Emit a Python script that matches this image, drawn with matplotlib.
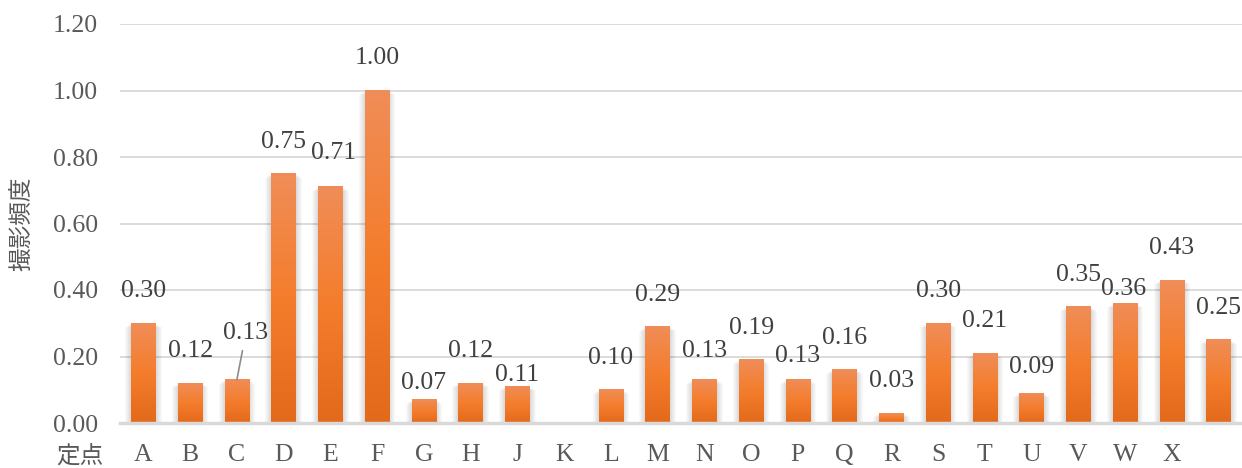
import numpy as np
import matplotlib.pyplot as plt
from matplotlib.colors import LinearSegmentedColormap
from matplotlib.patches import Rectangle

# 定点ごとの撮影頻度
points = ["A", "B", "C", "D", "E", "F", "G", "H", "J", "K", "L", "M",
          "N", "O", "P", "Q", "R", "S", "T", "U", "V", "W", "X", ""]
freq = [0.30, 0.12, 0.13, 0.75, 0.71, 1.00, 0.07, 0.12, 0.11, np.nan, 0.10, 0.29,
        0.13, 0.19, 0.13, 0.16, 0.03, 0.30, 0.21, 0.09, 0.35, 0.36, 0.43, 0.25]
yticks = [0.0, 0.2, 0.4, 0.6, 0.8, 1.0, 1.2]

# ラベル位置の手動調整 (ピクセル)
label_shift = {"C": (9, 47), "E": (3, 34), "G": (0, 17), "J": (0, 11),
               "P": (0, 24), "U": (0, 26), "W": (-2, 14), "N": (0, 29)}

grey = "#595959"
num_font = "Liberation Serif"
jp_font = ["Noto Sans CJK JP", "DejaVu Sans"]
fs = 18.5

fig = plt.figure(figsize=(12.42, 4.68), dpi=100)
ax = fig.add_axes([120 / 1242, 45 / 468, 1 - 120 / 1242, 399 / 468])

grad = LinearSegmentedColormap.from_list("bar", ["#E3691B", "#F47D2C", "#F08D58"])
g = np.linspace(0, 1, 256).reshape(-1, 1)

x = np.arange(len(points))
w = 0.52
px = 1 / 46.7  # 1ピクセル分のx幅

for xi, v in zip(x, freq):
    if np.isnan(v):
        continue
    # ぼかし影
    for k in range(1, 7):
        ax.add_patch(Rectangle((xi - w / 2 - k * px, 0), w + 2 * k * px, v - k * 0.002,
                               color="black", alpha=0.022, lw=0, zorder=2))
    ax.imshow(g, cmap=grad, origin="lower", aspect="auto", interpolation="bilinear",
              extent=(xi - w / 2, xi + w / 2, 0, v), zorder=3)

for xi, v, name in zip(x, freq, points):
    if np.isnan(v):
        continue
    dx, dy = label_shift.get(name, (0, 32))
    kw = {}
    if name == "C":
        kw["arrowprops"] = dict(arrowstyle="-", color="#8c8c8c", lw=1.2, shrinkA=3, shrinkB=0)
    ax.annotate(f"{v:.2f}", xy=(xi, v), xytext=(dx, dy), textcoords="offset pixels",
                ha="center", va="center", fontsize=fs, color="#404040",
                family=num_font, zorder=5, **kw)

ax.set_xlim(-0.5, len(points) - 0.5)
ax.set_ylim(0, 1.2)
ax.set_yticks(yticks)
ax.set_yticklabels([f"{t:.2f}" for t in yticks], family=num_font, fontsize=fs, color=grey)
ax.set_xticks(x)
ax.set_xticklabels(points, family=num_font, fontsize=fs, color=grey)
ax.tick_params(axis="both", length=0)
ax.tick_params(axis="y", pad=16)
ax.tick_params(axis="x", pad=15)

ax.grid(axis="y", color="#D9D9D9", lw=1.3, zorder=0)
ax.set_axisbelow(True)
for s in ["top", "right", "left"]:
    ax.spines[s].set_visible(False)
ax.spines["bottom"].set_color("#D9D9D9")
ax.spines["bottom"].set_linewidth(2.5)
ax.spines["bottom"].set_zorder(4)

fig.text(80 / 1242, 1 - 456 / 468, "定点", family=jp_font, fontsize=17, color=grey,
         ha="center", va="center")
fig.text(22 / 1242, 1 - 224 / 468, "撮影頻度", family=jp_font, fontsize=17, color=grey,
         ha="center", va="center", rotation=90)

fig.savefig("out.png", dpi=100)
